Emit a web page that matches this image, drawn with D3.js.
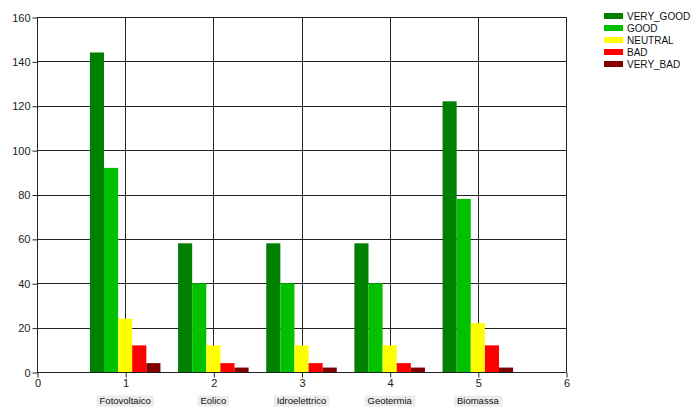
<!DOCTYPE html>
<html>
<head>
<meta charset="utf-8">
<script src="https://cdn.jsdelivr.net/npm/d3@7"></script>
<style>
  body { margin: 0; background: #fff; }
  text { font-family: "Liberation Sans", Arial, sans-serif; }
</style>
</head>
<body>
<div id="chart"></div>
<script>
var categories = ["Fotovoltaico", "Eolico", "Idroelettrico", "Geotermia", "Biomassa"];
var seriesNames = ["VERY_GOOD", "GOOD", "NEUTRAL", "BAD", "VERY_BAD"];
var seriesColors = ["#008000", "#00c000", "#ffff00", "#ff0000", "#800000"];
var veryGood = [144, 58, 58, 58, 122];
var good = [92, 40, 40, 40, 78];
var neutral = [24, 12, 12, 12, 22];
var bad = [12, 4, 4, 4, 12];
var veryBad = [4, 2, 2, 2, 2];
var xTicks = [0, 1, 2, 3, 4, 5, 6];
var yTicks = [0, 20, 40, 60, 80, 100, 120, 140, 160];

var series = [veryGood, good, neutral, bad, veryBad];

var width = 700, height = 413;
var plotLeft = 37, plotRight = 566, plotTop = 17, plotBottom = 372;

var svg = d3.select("#chart").append("svg")
  .attr("width", width)
  .attr("height", height);

var x = d3.scaleLinear().domain([0, 6]).range([plotLeft, plotRight]);
var y = d3.scaleLinear().domain([0, 160]).range([plotBottom, plotTop]);

var groupWidth = 0.8;
var barW = (x(groupWidth) - x(0)) / series.length;

// grid lines
svg.append("g")
  .selectAll("line")
  .data(yTicks)
  .enter().append("line")
  .attr("x1", plotLeft).attr("x2", plotRight)
  .attr("y1", function(d) { return Math.round(y(d)) + 0.5; })
  .attr("y2", function(d) { return Math.round(y(d)) + 0.5; })
  .attr("stroke", "#222").attr("stroke-width", 1);

svg.append("g")
  .selectAll("line")
  .data(xTicks)
  .enter().append("line")
  .attr("x1", function(d) { return Math.round(x(d)) + 0.5; })
  .attr("x2", function(d) { return Math.round(x(d)) + 0.5; })
  .attr("y1", plotTop).attr("y2", plotBottom)
  .attr("stroke", "#222").attr("stroke-width", 1);

// bars
series.forEach(function(vals, s) {
  svg.append("g")
    .selectAll("rect")
    .data(vals)
    .enter().append("rect")
    .attr("x", function(d, i) { return x(i + 1 - groupWidth / 2) + s * barW; })
    .attr("width", barW)
    .attr("y", function(d) { return y(d); })
    .attr("height", function(d) { return y(0) - y(d); })
    .attr("fill", seriesColors[s]);
});

// axes
var yAxis = d3.axisLeft(y).tickValues(yTicks).tickFormat(d3.format("d")).tickSize(5).tickPadding(2);
var gy = svg.append("g")
  .attr("transform", "translate(" + (plotLeft + 0.5) + ",0.5)")
  .call(yAxis);
gy.select(".domain").attr("stroke", "#222").attr("d", "M0," + plotTop + "V" + plotBottom);
gy.selectAll("text").attr("font-size", "11px").attr("fill", "#222").attr("font-family", "Liberation Sans, Arial, sans-serif");
gy.selectAll(".tick line").attr("stroke", "#222");

var xAxis = d3.axisBottom(x).tickValues(xTicks).tickFormat(d3.format("d")).tickSize(5).tickPadding(2);
var gx = svg.append("g")
  .attr("transform", "translate(0.5," + (plotBottom + 0.5) + ")")
  .call(xAxis);
gx.select(".domain").attr("stroke", "#222").attr("d", "M" + plotLeft + ",0H" + plotRight);
gx.selectAll("text").attr("font-size", "11px").attr("fill", "#222").attr("font-family", "Liberation Sans, Arial, sans-serif");
gx.selectAll(".tick line").attr("stroke", "#222");

// category labels
var catG = svg.append("g")
  .selectAll("g")
  .data(categories)
  .enter().append("g")
  .attr("transform", function(d, i) { return "translate(" + x(i + 1) + ",401)"; });

catG.append("text")
  .attr("text-anchor", "middle")
  .attr("dy", "0.35em")
  .attr("font-size", "9.5px")
  .attr("fill", "#111")
  .text(function(d) { return d; })
  .each(function() {
    var b = this.getBBox();
    d3.select(this.parentNode).insert("rect", "text")
      .attr("x", b.x - 3).attr("y", -5.5)
      .attr("width", b.width + 6).attr("height", 11)
      .attr("fill", "#ececec");
  });

// legend
var leg = svg.append("g")
  .selectAll("g")
  .data(seriesNames)
  .enter().append("g")
  .attr("transform", function(d, i) { return "translate(604," + (16 + i * 12) + ")"; });

leg.append("rect")
  .attr("x", 0).attr("y", -3)
  .attr("width", 19).attr("height", 6)
  .attr("fill", function(d, i) { return seriesColors[i]; });

leg.append("text")
  .attr("x", 23)
  .attr("dy", "0.35em")
  .attr("font-size", "10px")
  .attr("fill", "#111")
  .text(function(d) { return d; });
</script>
</body>
</html>
